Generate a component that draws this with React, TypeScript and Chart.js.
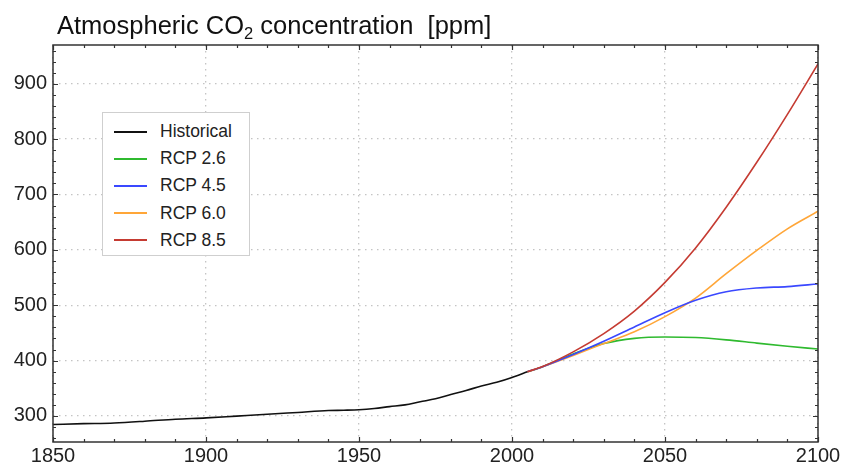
import React, { useEffect, useRef } from "react";
import { Chart, registerables } from "chart.js";

Chart.register(...registerables);

const histYears = [1850, 1860, 1870, 1880, 1890, 1900, 1910, 1920, 1930, 1940, 1945, 1950, 1955, 1960, 1965, 1970, 1975, 1980, 1985, 1990, 1995, 2000, 2005];
const histValues = [284.7, 286.1, 287.4, 290.5, 294.2, 296.6, 299.8, 303.0, 306.4, 309.8, 310.4, 311.3, 313.5, 316.9, 320.0, 325.7, 331.1, 338.8, 346.0, 354.2, 360.9, 369.6, 379.8];

const rcpYears = [2005, 2010, 2020, 2030, 2040, 2050, 2060, 2070, 2080, 2090, 2100];
const rcp26 = [379.8, 389.0, 412.1, 430.8, 440.2, 442.7, 441.7, 437.5, 431.6, 426.0, 420.9];
const rcp45 = [379.8, 389.1, 411.1, 435.0, 460.8, 486.5, 508.9, 524.3, 531.1, 533.7, 538.4];
const rcp60 = [379.8, 389.1, 409.4, 430.8, 452.0, 479.5, 513.0, 557.0, 599.0, 638.0, 669.7];
const rcp85 = [379.8, 389.3, 415.8, 448.8, 489.4, 541.2, 603.5, 677.1, 758.2, 844.8, 935.9];

const seriesNames = ["Historical", "RCP 2.6", "RCP 4.5", "RCP 6.0", "RCP 8.5"];
const seriesColors = ["#111111", "#2fba2f", "#3a48ff", "#ffa638", "#c53b32"];

const xTickValues = [1850, 1900, 1950, 2000, 2050, 2100];
const yTickValues = [300, 400, 500, 600, 700, 800, 900];
const xMin = 1850, xMax = 2100, yMin = 253, yMax = 970;
const xMinorStep = 10, yMinorStep = 20;

const FONT = "'Liberation Sans', Arial, Helvetica, sans-serif";

const toPts = (xs: number[], ys: number[]) => xs.map((x, i) => ({ x, y: ys[i] }));

const frameTicks = {
  id: "frameTicks",
  afterDatasetsDraw(chart: any) {
    const { ctx, chartArea: a, scales } = chart;
    const xs = scales.x, ys = scales.y;
    ctx.save();
    ctx.strokeStyle = "#333333";
    ctx.lineWidth = 1.5;
    ctx.strokeRect(a.left, a.top, a.right - a.left, a.bottom - a.top);
    ctx.lineWidth = 1.2;
    ctx.beginPath();
    for (let v = xMin; v <= xMax; v += xMinorStep) {
      const p = Math.round(xs.getPixelForValue(v)) + 0.5;
      const len = xTickValues.includes(v) ? 5 : 3;
      ctx.moveTo(p, a.bottom); ctx.lineTo(p, a.bottom - len);
      ctx.moveTo(p, a.top); ctx.lineTo(p, a.top + len);
    }
    const y0 = Math.ceil(yMin / yMinorStep) * yMinorStep;
    for (let v = y0; v <= yMax; v += yMinorStep) {
      const p = Math.round(ys.getPixelForValue(v)) + 0.5;
      const len = yTickValues.includes(v) ? 5 : 3;
      ctx.moveTo(a.left, p); ctx.lineTo(a.left + len, p);
      ctx.moveTo(a.right, p); ctx.lineTo(a.right - len, p);
    }
    ctx.stroke();
    ctx.restore();
  },
};

export default function App() {
  const ref = useRef<HTMLCanvasElement>(null);
  useEffect(() => {
    if (!ref.current) return;
    const seriesData = [
      toPts(histYears, histValues),
      toPts(rcpYears, rcp26),
      toPts(rcpYears, rcp45),
      toPts(rcpYears, rcp60),
      toPts(rcpYears, rcp85),
    ];
    const orders = [0, 4, 2, 3, 1];
    const chart = new Chart(ref.current, {
      type: "line",
      data: {
        datasets: seriesData.map((d, i) => ({
          label: seriesNames[i],
          data: d,
          borderColor: seriesColors[i],
          backgroundColor: seriesColors[i],
          borderWidth: 1.6,
          pointRadius: 0,
          cubicInterpolationMode: "monotone" as const,
          fill: false,
          order: orders[i],
        })),
      },
      options: {
        responsive: false,
        animation: false,
        devicePixelRatio: 1,
        layout: { padding: { top: 45, right: 26, left: 0, bottom: 0 } },
        plugins: { legend: { display: false }, title: { display: false }, tooltip: { enabled: false } },
        scales: {
          x: {
            type: "linear",
            min: xMin,
            max: xMax,
            afterBuildTicks: (s: any) => { s.ticks = xTickValues.map((v) => ({ value: v })); },
            afterFit: (s: any) => { s.height = 26; },
            grid: { color: "#c4c4c4", lineWidth: 1.3, drawTicks: false },
            border: { display: false, dash: [1.5, 4.5] },
            ticks: {
              callback: (v: any) => String(v),
              color: "#222222",
              font: { family: FONT, size: 20 },
              padding: 2,
              maxRotation: 0,
            },
          },
          y: {
            type: "linear",
            min: yMin,
            max: yMax,
            afterBuildTicks: (s: any) => { s.ticks = yTickValues.map((v) => ({ value: v })); },
            afterFit: (s: any) => { s.width = 53; },
            grid: { color: "#c4c4c4", lineWidth: 1.3, drawTicks: false },
            border: { display: false, dash: [1.5, 4.5] },
            ticks: {
              callback: (v: any) => String(v),
              color: "#222222",
              font: { family: FONT, size: 20 },
              padding: 6,
            },
          },
        },
      },
      plugins: [frameTicks],
    });
    return () => chart.destroy();
  }, []);

  const rowTops = [0, 1, 2, 3, 4];
  return (
    <div style={{ position: "fixed", left: 0, top: 0, width: 844, height: 468, background: "#ffffff", fontFamily: FONT }}>
      <canvas ref={ref} width={844} height={468} style={{ position: "absolute", left: 0, top: 0 }} />
      <div style={{ position: "absolute", left: 57, top: 12.5, fontSize: 25.5, lineHeight: "25.5px", color: "#111111", whiteSpace: "pre" }}>
        Atmospheric CO<span style={{ fontSize: 16.5, position: "relative", top: 5 }}>2</span> concentration  [ppm]
      </div>
      <div style={{ position: "absolute", left: 102, top: 112, width: 146, height: 142, border: "1px solid #cfcfcf", background: "#ffffff" }}>
        {rowTops.map((i) => (
          <div key={i} style={{ position: "absolute", left: 0, top: 6 + i * 27.2, height: 24, width: 146 }}>
            <div style={{ position: "absolute", left: 11, top: 11.5, width: 33, height: 2, background: seriesColors[i] }} />
            <div style={{ position: "absolute", left: 57, top: 0, fontSize: 17.5, lineHeight: "24px", color: "#222222", whiteSpace: "pre" }}>
              {seriesNames[i]}
            </div>
          </div>
        ))}
      </div>
    </div>
  );
}
